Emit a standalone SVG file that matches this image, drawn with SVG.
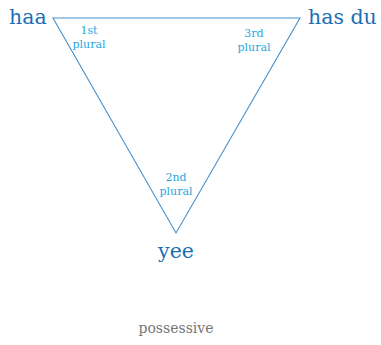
<svg xmlns="http://www.w3.org/2000/svg" width="381" height="345" viewBox="0 0 381 345">
<style>
.big{font-family:"DejaVu Serif","Liberation Serif",serif;font-size:20.5px;fill:#1c6fb3}
.sm{font-family:"DejaVu Serif","Liberation Serif",serif;font-size:11px;fill:#2aa8e0;text-anchor:middle}
.cap{font-family:"DejaVu Serif","Liberation Serif",serif;font-size:14px;fill:#777;text-anchor:middle}
</style>
<rect width="381" height="345" fill="#fff"/>
<g id="connectors">
<polygon points="53,18 300,18 176,233" fill="none" stroke="#4a8fc8" stroke-width="1.1"/>
</g>
<g id="haa"><text class="big" x="9" y="24">haa</text>
<text class="sm" x="89" y="34">1st</text><text class="sm" x="89" y="48">plural</text></g>
<g id="hasdu"><text class="big" x="308" y="24">has du</text>
<text class="sm" x="254" y="37">3rd</text><text class="sm" x="254" y="51">plural</text></g>
<g id="yee"><text class="big" x="176" y="258" text-anchor="middle">yee</text>
<text class="sm" x="176" y="181">2nd</text><text class="sm" x="176" y="195">plural</text></g>
<text class="cap" x="176" y="333">possessive</text>
</svg>
